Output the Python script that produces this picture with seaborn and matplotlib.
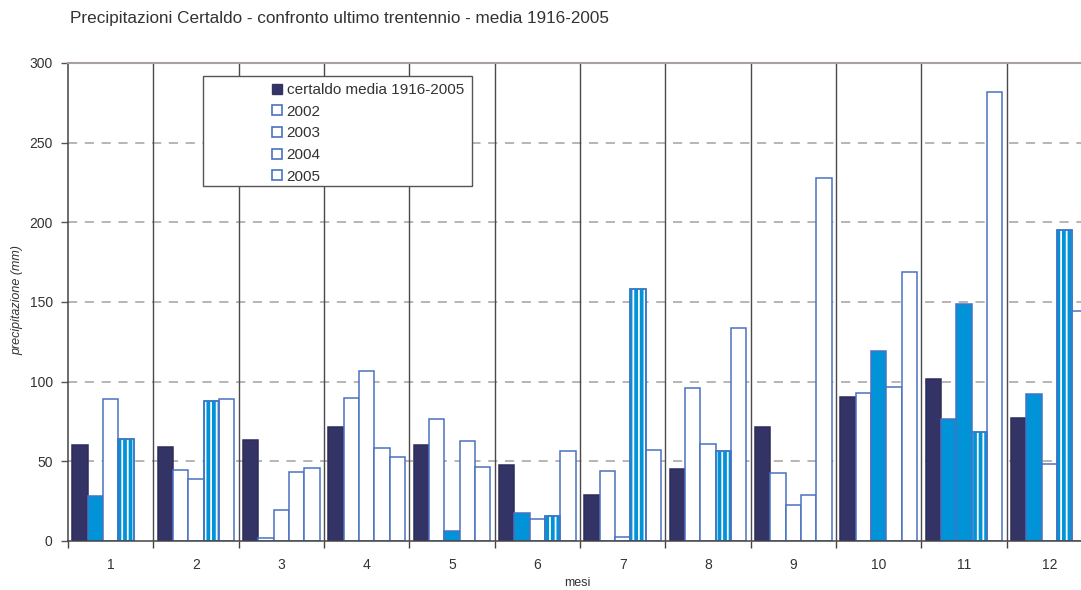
import numpy as np
import pandas as pd
import matplotlib
matplotlib.use("Agg")
import matplotlib.pyplot as plt
from matplotlib.patches import Patch, Rectangle
from matplotlib.ticker import FixedLocator, NullFormatter
import seaborn as sns

# ---- data (mm of rain per month) ----
months = [str(m) for m in range(1, 13)]
media_1916_2005 = [60.3, 59.2, 63.4, 71.4, 60.5, 47.7, 29.1, 45.0, 71.6, 90.6, 101.9, 77.0]
y2002 = [28.2, 44.6, 2.1, 90.0, 76.8, 17.4, 44.1, 96.2, 42.5, 92.9, 76.4, 92.1]
y2003 = [89.1, 38.9, 19.3, 106.9, 6.1, 13.8, 2.5, 61.1, 22.6, 119.1, 148.8, 48.3]
y2004 = [64.0, 88.0, 43.3, 58.2, 63.0, 15.5, 158.0, 56.7, 28.9, 96.9, 68.6, 195.2]
y2005 = [np.nan, 89.1, 45.8, 52.7, 46.3, 56.3, 57.1, 133.9, 227.8, 168.8, 281.8, 144.6]

series_names = ["certaldo media 1916-2005", "2002", "2003", "2004", "2005"]
series_values = [media_1916_2005, y2002, y2003, y2004, y2005]

# per-bar fill style for the yearly series: b = solid, w = empty, s = striped
fill_2002 = ["b", "w", "w", "w", "w", "b", "w", "w", "w", "w", "b", "b"]
fill_2003 = ["w", "w", "w", "w", "b", "w", "w", "w", "w", "b", "b", "w"]
fill_2004 = ["s", "s", "w", "w", "w", "s", "s", "s", "w", "w", "s", "s"]
fill_2005 = ["w", "w", "w", "w", "w", "w", "w", "w", "w", "w", "w", "w"]
fills = {"2002": fill_2002, "2003": fill_2003, "2004": fill_2004, "2005": fill_2005}

rows = []
for name, vals in zip(series_names, series_values):
    for m, v in zip(months, vals):
        if not np.isnan(v):
            rows.append({"mese": m, "serie": name, "mm": v})
df = pd.DataFrame(rows)

# ---- styling ----
NAVY = "#333366"
BLUE = "#0093d8"
EDGE = "#4a72c2"
GRID = "#a89f9b"
TEXT = "#333333"

sns.set_theme(style="white")
plt.rcParams["font.family"] = ["Liberation Sans", "DejaVu Sans"]
plt.rcParams["hatch.linewidth"] = 2.7

fig = plt.figure(figsize=(10.81, 5.90), dpi=100)
ax = fig.add_axes([68 / 1081, 1 - 541 / 590, 1024 / 1081, (541 - 63) / 590])

sns.barplot(data=df, x="mese", y="mm", hue="serie", order=months,
            hue_order=series_names, width=0.9, gap=0, dodge=True,
            legend=False, errorbar=None, ax=ax, zorder=3)

bars = [p for p in ax.patches if isinstance(p, Rectangle)]
hue_offsets = np.linspace(-0.36, 0.36, 5)
for p in bars:
    cx = p.get_x() + p.get_width() / 2
    mi = int(round(cx))
    si = int(np.argmin(np.abs(hue_offsets - (cx - mi))))
    name = series_names[si]
    p.set_linewidth(1.1)
    if si == 0:
        p.set_facecolor(NAVY)
        p.set_edgecolor("#2c2c5c")
        continue
    style = fills[name][mi]
    if style == "b":
        p.set_facecolor(BLUE)
        p.set_edgecolor(EDGE)
    elif style == "w":
        p.set_facecolor("white")
        p.set_edgecolor(EDGE)
    else:
        # striped: hatch lines take the edge colour, then a border on top
        p.set_facecolor("white")
        p.set_edgecolor(BLUE)
        p.set_hatch("|||")
        ax.add_patch(Rectangle((p.get_x(), 0), p.get_width(), p.get_height(),
                               facecolor="none", edgecolor=EDGE, linewidth=1.1,
                               zorder=3.1))

# axes limits and ticks
ax.set_ylim(0, 300)
ax.set_xlim(-0.5, 11.5)
ax.set_yticks(np.arange(0, 301, 50))
ax.tick_params(axis="y", which="major", length=5, width=1, color="#555555",
               labelsize=10, labelcolor=TEXT, pad=6, left=True)
ax.xaxis.set_minor_locator(FixedLocator(np.arange(-0.5, 12, 1.0)))
ax.xaxis.set_minor_formatter(NullFormatter())
ax.tick_params(axis="x", which="major", length=0, labelsize=10,
               labelcolor=TEXT, pad=12)
ax.tick_params(axis="x", which="minor", length=5, width=1, color="#444444",
               bottom=True)

# dashed horizontal guides, solid month separators
for yv in range(50, 300, 50):
    ax.axhline(yv, color=GRID, lw=1.1, ls=(0, (6, 5)), zorder=1)
for xv in np.arange(0.5, 11.5, 1.0):
    ax.axvline(xv, color="#4a4a4a", lw=1.0, zorder=1)

ax.spines["right"].set_visible(False)
ax.spines["top"].set_color("#a8a0a0")
ax.spines["top"].set_linewidth(1.5)
ax.spines["left"].set_color("#444444")
ax.spines["left"].set_linewidth(1.1)
ax.spines["bottom"].set_color("#444444")
ax.spines["bottom"].set_linewidth(1.1)
for s in ax.spines.values():
    s.set_zorder(4)

ax.set_xlabel("")
ax.set_ylabel("")
fig.text(17 / 1081, 1 - 300 / 590, "precipitazione (mm)", rotation=90,
         ha="center", va="center", fontsize=9, style="italic", color=TEXT)
fig.text(577 / 1081, 1 - 583 / 590, "mesi", ha="center", va="center",
         fontsize=9, color=TEXT)
fig.text(70 / 1081, 1 - 19 / 590,
         "Precipitazioni Certaldo - confronto ultimo trentennio - media 1916-2005",
         ha="left", va="center", fontsize=12.3, color=TEXT)

# legend box
frame = Rectangle((203 / 1081, 1 - 186 / 590), (472 - 203) / 1081, (186 - 76) / 590,
                  transform=fig.transFigure, facecolor="white",
                  edgecolor="#555555", linewidth=1.0, zorder=5)
fig.patches.append(frame)
handles = [Patch(facecolor=NAVY, edgecolor=NAVY)] + \
          [Patch(facecolor="white", edgecolor=EDGE, linewidth=1.2) for _ in range(4)]
leg = fig.legend(handles, series_names, loc="upper left",
                 bbox_to_anchor=(266 / 1081, 1 - 77 / 590),
                 frameon=False, fontsize=11, handlelength=0.65, handleheight=0.65,
                 handletextpad=0.3, labelspacing=0.5, borderaxespad=0,
                 labelcolor=TEXT)
leg.set_zorder(6)

fig.savefig("out.png", dpi=100)
